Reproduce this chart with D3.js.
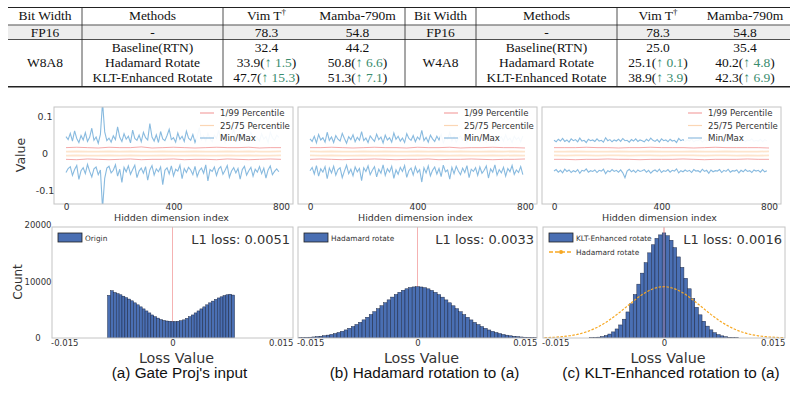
<!DOCTYPE html>
<html lang="en">
<head>
<meta charset="UTF-8">
<title>Rotation results and activation statistics</title>
<script src="https://cdn.jsdelivr.net/npm/d3@7"></script>
<style>
  body { margin: 0; background: #fff; }
  svg { display: block; }
  .tbl text { font-family: "Liberation Serif", "Times New Roman", serif; font-size: 13.5px; fill: #111; }
  .tbl .up { fill: #3a8c6e; }
  .plot text { font-family: "DejaVu Sans", sans-serif; fill: #333; }
  .cap { font-family: "Liberation Sans", Arial, sans-serif; font-size: 15.3px; fill: #111; }
</style>
</head>
<body>
<script>
// ---------- table data ----------
var tblHead = ["Bit Width", "Methods", "Vim T", "Mamba-790m"];
var methods = ["Baseline(RTN)", "Hadamard Rotate", "KLT-Enhanced Rotate"];
var fp16 = [78.3, 54.8];
var bitWidths = ["W8A8", "W4A8"];
var w8Vim = [32.4, 33.9, 47.7],   w8VimUp = [null, 1.5, 15.3];
var w8Mamba = [44.2, 50.8, 51.3], w8MambaUp = [null, 6.6, 7.1];
var w4Vim = [25.0, 25.1, 38.9],   w4VimUp = [null, 0.1, 3.9];
var w4Mamba = [35.4, 40.2, 42.3], w4MambaUp = [null, 4.8, 6.9];

// ---------- line plots: values x1e-3, min/max every 8th index, percentiles every 40th ----------
var originMax = [46,38,55,34,62,41,30,49,37,57, 33,44,69,36,45,28,52,140,59,35,
  42,31,48,38,73,44,33,54,39,47, 29,64,41,36,50,32,58,43,37,82,
  45,34,51,30,60,40,35,49,66,38, 43,31,56,39,47,33,61,42,36,52,
  30,45,71,37,48,34,55,40,32,50, 41,63,36,46,29,53,38,44,67,35,
  49,32,57,40,45,31,60,37,48,42, 34,54,39,46,30,58,43,36,50,44];
var originMin = [-52,-41,-36,-60,-44,-33,-71,-47,-39,-55, -30,-49,-64,-42,-37,-58,-45,-150,-68,-40,
  -35,-53,-46,-31,-62,-43,-79,-38,-50,-34, -57,-44,-32,-66,-48,-40,-54,-36,-73,-45,
  -33,-59,-42,-50,-37,-85,-46,-39,-56,-34, -61,-43,-48,-32,-69,-41,-52,-38,-45,-58,
  -35,-63,-47,-40,-54,-31,-75,-44,-49,-37, -60,-42,-36,-57,-46,-33,-65,-48,-39,-53,
  -41,-70,-44,-35,-59,-47,-38,-62,-43,-51, -36,-55,-40,-67,-45,-34,-58,-49,-42,-50];
var hadMax = [40,33,47,29,52,37,43,31,58,36, 45,30,49,39,34,55,41,28,46,38,
  51,32,44,36,60,35,42,30,48,40, 33,53,38,45,29,50,37,43,31,56,
  39,47,34,42,30,54,41,36,49,32, 45,38,63,35,44,31,50,40,33,47,
  37,52,29,43,39,57,34,46,31,41, 48,36,44,30,53,38,42,35,50,33,
  46,40,31,55,37,43,29,49,39,45, 34,51,36,42,30,47,38,44,32,48];
var hadMin = [-47,-38,-56,-33,-62,-42,-51,-36,-69,-40, -53,-35,-59,-44,-39,-66,-48,-32,-55,-43,
  -61,-37,-50,-41,-74,-39,-49,-34,-58,-46, -36,-64,-43,-54,-31,-60,-42,-51,-35,-68,
  -45,-57,-38,-49,-33,-65,-47,-40,-59,-36, -52,-44,-78,-39,-53,-34,-61,-46,-37,-56,
  -41,-63,-32,-50,-45,-70,-38,-55,-35,-48, -58,-40,-52,-33,-66,-43,-49,-39,-60,-37,
  -54,-46,-34,-67,-42,-51,-31,-59,-44,-53, -38,-62,-41,-50,-33,-57,-45,-52,-36,-58];
var kltMax = [36,32,39,34,41,33,37,31,40,35, 38,32,42,34,36,30,39,35,37,33,
  40,34,36,31,43,35,38,32,37,34, 39,33,41,35,36,31,38,34,40,33,
  37,35,32,39,34,42,36,33,38,31, 40,35,37,32,39,34,36,30,41,35,
  38,33,37,34,40,32,36,35,39,31, 37,34,42,33,38,35,36,32,40,34,
  37,31,39,35,36,33,41,34,38,32, 37,35,40,33,36,34,39,32,38,35];
var kltMin = [-48,-44,-51,-46,-53,-43,-49,-45,-52,-47, -50,-44,-54,-46,-48,-42,-51,-47,-49,-45,
  -52,-46,-48,-43,-55,-47,-50,-44,-49,-46, -51,-45,-53,-66,-48,-43,-50,-46,-52,-45,
  -49,-47,-44,-51,-46,-54,-48,-45,-50,-43, -52,-47,-49,-44,-51,-46,-48,-42,-53,-47,
  -50,-45,-49,-46,-52,-44,-48,-47,-51,-43, -49,-46,-54,-45,-50,-47,-48,-44,-52,-46,
  -49,-43,-51,-47,-48,-45,-53,-46,-50,-44, -49,-47,-52,-45,-48,-46,-51,-44,-50,-47];
var originP99 = [16,17,16,15,17,16,16,18,15,16,17,16,15,16,17,16,16,17,15,16,16];
var originP01 = [-16,-17,-15,-16,-17,-16,-15,-17,-16,-16,-15,-17,-16,-16,-17,-15,-16,-17,-16,-15,-16];
var originP75 = [5,6,5,5,6,5,6,5,5,6,5,5,6,5,5,6,5,6,5,5,6];
var originP25 = [-6,-5,-6,-6,-5,-6,-5,-6,-6,-5,-6,-6,-5,-6,-6,-5,-6,-5,-6,-6,-5];
var hadP99 = [16,16,17,16,15,16,17,16,16,15,17,16,16,17,15,16,16,17,16,16,15];
var hadP01 = [-16,-15,-16,-17,-16,-16,-15,-16,-17,-16,-16,-15,-17,-16,-16,-15,-16,-17,-16,-16,-15];
var hadP75 = [6,5,6,5,5,6,5,6,5,5,6,5,6,5,6,5,5,6,5,6,5];
var hadP25 = [-5,-6,-5,-6,-6,-5,-6,-5,-6,-6,-5,-6,-5,-6,-5,-6,-6,-5,-6,-5,-6];
var kltP99 = [16,16,16,17,16,16,15,16,16,17,16,16,16,15,16,17,16,16,16,16,15];
var kltP01 = [-16,-16,-17,-16,-16,-15,-16,-16,-17,-16,-16,-16,-15,-16,-17,-16,-16,-16,-15,-16,-16];
var kltP75 = [5,5,6,5,5,5,6,5,5,6,5,5,5,6,5,5,6,5,5,5,6];
var kltP25 = [-5,-6,-5,-5,-6,-5,-5,-6,-5,-5,-6,-5,-5,-5,-6,-5,-5,-6,-5,-6,-5];
var lineLegend = ["1/99 Percentile", "25/75 Percentile", "Min/Max"];

// ---------- histograms ----------
var originStart = -0.0090, originStep = 0.0004;
var originCounts = [7550,8370,8060,7850,7650,7400,7140,6890,6580,6220, 5870,5510,5150,4790,4440,4080,3770,3520,3260,3110,
  3010,2960,2900,2900,2960,3060,3210,3470,3770,4080, 4440,4790,5150,5510,5870,6220,6530,6830,7090,7290,
  7500,7650,7750,7600];
var hadStart = -0.01675, hadStep = 0.0005;
var hadCounts = [60,80,110,140,185,245,315,400,510,630, 785,970,1180,1430,1710,2030,2390,2770,3210,3670,
  4150,4660,5190,5710,6240,6750,7240,7690,8090,8440, 8710,8920,9040,9080,9030,8900,8700,8420,8070,7680,
  7230,6740,6230,5700,5180,4650,4140,3660,3200,2760, 2380,2020,1700,1420,1170,960,780,620,500,390,
  310,240,180,140,105,80,60];
var kltStart = -0.01025, kltStep = 0.0005;
var kltCounts = [50,90,150,260,430,700,1080,1600,2310,3330, 4610,6050,7690,9530,11480,13330,15070,16500,17630,18250,
  18600,18100,17300,15990,14350,12500,10560,8710,6970,5430, 4100,2970,2100,1440,940,600,380,230,130,75,40];
var l1Loss = ["0.0051", "0.0033", "0.0016"];
var histLabels = ["Origin", "Hadamard rotate", "KLT-Enhanced rotate"];
var captions = ["(a) Gate Proj's input", "(b) Hadamard rotation to (a)", "(c) KLT-Enhanced rotation to (a)"];

var W = 792, H = 394;
var svg = d3.select("body").append("svg").attr("width", W).attr("height", H);

// ================= table =================
var tbl = svg.append("g").attr("class", "tbl");
tbl.append("rect").attr("x", 8).attr("y", 25.5).attr("width", 782).attr("height", 13.5).attr("fill", "#ededed");
function hline(y, w) {
  tbl.append("line").attr("x1", 8).attr("x2", 790).attr("y1", y).attr("y2", y)
    .attr("stroke", "#222").attr("stroke-width", w);
}
hline(7.5, 1.2); hline(25, 0.8); hline(39.5, 0.8); hline(86.8, 1.6);
[82, 223, 405, 476, 617].forEach(function(x) {
  tbl.append("line").attr("x1", x).attr("x2", x).attr("y1", 7.5).attr("y2", 86.5)
    .attr("stroke", "#222").attr("stroke-width", 0.8);
});

var halves = [
  {cols: [45, 152.5, 266.5, 357.5], bits: bitWidths[0], vim: w8Vim, vimUp: w8VimUp, mam: w8Mamba, mamUp: w8MambaUp},
  {cols: [440.5, 546.5, 658, 745], bits: bitWidths[1], vim: w4Vim, vimUp: w4VimUp, mam: w4Mamba, mamUp: w4MambaUp}
];
var rowY = [52, 67, 82];

function cell(x, y, v, up) {
  var t = tbl.append("text").attr("x", x).attr("y", y).attr("text-anchor", "middle");
  if (up == null) { t.text(v.toFixed(1)); return; }
  t.append("tspan").text(v.toFixed(1) + "(");
  t.append("tspan").attr("class", "up").text("\u2191 " + up.toFixed(1));
  t.append("tspan").text(")");
}

halves.forEach(function(h) {
  tblHead.forEach(function(s, i) {
    var t = tbl.append("text").attr("x", h.cols[i]).attr("y", 20).attr("text-anchor", "middle").text(s);
    if (i === 2) t.append("tspan").attr("font-size", "9px").attr("dy", -5).text("\u2020");
  });
  tbl.append("text").attr("x", h.cols[0]).attr("y", 36.5).attr("text-anchor", "middle").text("FP16");
  tbl.append("text").attr("x", h.cols[1]).attr("y", 36.5).attr("text-anchor", "middle").text("-");
  cell(h.cols[2], 36.5, fp16[0], null);
  cell(h.cols[3], 36.5, fp16[1], null);
  tbl.append("text").attr("x", h.cols[0]).attr("y", rowY[1]).attr("text-anchor", "middle").text(h.bits);
  methods.forEach(function(m, r) {
    tbl.append("text").attr("x", h.cols[1]).attr("y", rowY[r]).attr("text-anchor", "middle").text(m);
    cell(h.cols[2], rowY[r], h.vim[r], h.vimUp[r]);
    cell(h.cols[3], rowY[r], h.mam[r], h.mamUp[r]);
  });
});

// ================= line plots =================
var linePanels = [
  {x0: 54, x1: 293, max: originMax, min: originMin, p99: originP99, p01: originP01, p75: originP75, p25: originP25},
  {x0: 298, x1: 537, max: hadMax, min: hadMin, p99: hadP99, p01: hadP01, p75: hadP75, p25: hadP25},
  {x0: 542, x1: 781, max: kltMax, min: kltMin, p99: kltP99, p01: kltP01, p75: kltP75, p25: kltP25}
];
var lTop = 107, lBot = 204;
var yLine = d3.scaleLinear().domain([-0.138, 0.127]).range([lBot, lTop]);

linePanels.forEach(function(p, i) {
  var g = svg.append("g").attr("class", "plot");
  var x = d3.scaleLinear().domain([0, 800]).range([p.x0 + 12, p.x1 - 12]);
  g.append("clipPath").attr("id", "lc" + i).append("rect")
    .attr("x", p.x0).attr("y", lTop).attr("width", p.x1 - p.x0).attr("height", lBot - lTop);
  var body = g.append("g").attr("clip-path", "url(#lc" + i + ")");
  var mm = d3.line().x(function(d, k) { return x(k * 8); }).y(function(d) { return yLine(d / 1000); });
  var pc = d3.line().x(function(d, k) { return x(k * 40); }).y(function(d) { return yLine(d / 1000); });

  [p.p75, p.p25].forEach(function(s) {
    body.append("path").attr("d", pc(s)).attr("fill", "none")
      .attr("stroke", "#fcd3ab").attr("stroke-width", 1.8).attr("opacity", 0.6);
  });
  [p.p99, p.p01].forEach(function(s) {
    body.append("path").attr("d", pc(s)).attr("fill", "none")
      .attr("stroke", "#ef7f7f").attr("stroke-width", 0.9).attr("opacity", 0.75);
  });
  [p.max, p.min].forEach(function(s) {
    body.append("path").attr("d", mm(s)).attr("fill", "none")
      .attr("stroke", "#5a9fd3").attr("stroke-width", 1.1).attr("opacity", 0.72)
      .attr("stroke-linejoin", "miter");
  });

  // legend
  var lg = g.append("g");
  lg.append("rect").attr("x", p.x1 - 97).attr("y", lTop + 1).attr("width", 95).attr("height", 38)
    .attr("fill", "#fff").attr("opacity", 0.92);
  var lcol = ["#f4a3a3", "#fbd6b4", "#8fbde0"];
  lineLegend.forEach(function(s, k) {
    var yy = 113 + k * 12.5;
    lg.append("line").attr("x1", p.x1 - 93).attr("x2", p.x1 - 79).attr("y1", yy).attr("y2", yy)
      .attr("stroke", lcol[k]).attr("stroke-width", 1.2);
    lg.append("text").attr("x", p.x1 - 73).attr("y", yy + 3).attr("font-size", "8.6px").attr("fill", "#444").text(s);
  });

  g.append("rect").attr("x", p.x0).attr("y", lTop).attr("width", p.x1 - p.x0).attr("height", lBot - lTop)
    .attr("fill", "none").attr("stroke", "#c4c4c4").attr("stroke-width", 1);

  var xa = g.append("g").attr("transform", "translate(0," + lBot + ")")
    .call(d3.axisBottom(x).tickValues([0, 400, 800]).tickSize(0).tickPadding(0));
  xa.select(".domain").remove();
  xa.selectAll("text").attr("font-size", "9px").attr("fill", "#333");

  g.append("text").attr("x", (p.x0 + p.x1) / 2 - 2).attr("y", 221).attr("text-anchor", "middle")
    .attr("font-size", "9.5px").attr("fill", "#444").text("Hidden dimension index");

  if (i === 0) {
    var ya = g.append("g").attr("transform", "translate(" + p.x0 + ",0)")
      .call(d3.axisLeft(yLine).tickValues([-0.1, 0, 0.1]).tickSize(0)
        .tickFormat(function(d) { return String(d); }));
    ya.select(".domain").remove();
    ya.selectAll("text").attr("text-anchor", "middle").attr("x", -9).attr("font-size", "9.5px").attr("fill", "#333");
    g.append("text").attr("transform", "translate(25,155) rotate(-90)").attr("text-anchor", "middle")
      .attr("font-size", "12.5px").attr("fill", "#444").text("Value");
  }
});

// ================= histograms =================
var hTop = 227, hBot = 338;
var yHist = d3.scaleLinear().domain([0, 20000]).range([hBot, 225]);
var histPanels = [
  {x0: 52, x1: 293, start: originStart, step: originStep, counts: originCounts},
  {x0: 298, x1: 537, start: hadStart, step: hadStep, counts: hadCounts},
  {x0: 543, x1: 785, start: kltStart, step: kltStep, counts: kltCounts, overlay: true}
];

histPanels.forEach(function(p, i) {
  var g = svg.append("g").attr("class", "plot");
  var x = d3.scaleLinear().domain([-0.0167, 0.0167]).range([p.x0, p.x1]);
  g.append("clipPath").attr("id", "hc" + i).append("rect")
    .attr("x", p.x0).attr("y", hTop).attr("width", p.x1 - p.x0).attr("height", hBot - hTop);
  var body = g.append("g").attr("clip-path", "url(#hc" + i + ")");

  body.append("line").attr("x1", x(0)).attr("x2", x(0)).attr("y1", hTop).attr("y2", hBot)
    .attr("stroke", "#f08080").attr("stroke-width", 1).attr("opacity", 0.6);

  body.selectAll("rect.bar").data(p.counts).enter().append("rect").attr("class", "bar")
    .attr("x", function(d, k) { return x(p.start + k * p.step); })
    .attr("width", function(d, k) { return x(p.start + (k + 1) * p.step) - x(p.start + k * p.step); })
    .attr("y", function(d) { return yHist(d); })
    .attr("height", function(d) { return hBot - yHist(d); })
    .attr("fill", "#4a6fb3").attr("stroke", "#18223d").attr("stroke-width", 0.45);

  if (p.overlay) {
    var ov = d3.line()
      .x(function(d, k) { return x(hadStart + (k + 0.5) * hadStep); })
      .y(function(d) { return yHist(d); });
    body.append("path").attr("d", ov(hadCounts)).attr("fill", "none")
      .attr("stroke", "#f7a823").attr("stroke-width", 1.2).attr("stroke-dasharray", "2.5,1.5");
    body.append("line").attr("x1", x(0)).attr("x2", x(0)).attr("y1", hTop).attr("y2", hBot)
      .attr("stroke", "#f08080").attr("stroke-width", 1).attr("opacity", 0.45);
  }

  g.append("rect").attr("x", p.x0).attr("y", hTop).attr("width", p.x1 - p.x0).attr("height", hBot - hTop)
    .attr("fill", "none").attr("stroke", "#c4c4c4").attr("stroke-width", 1);

  // legend
  g.append("rect").attr("x", p.x0 + 6).attr("y", 233).attr("width", 24).attr("height", 9)
    .attr("fill", "#4a6fb3").attr("stroke", "#222").attr("stroke-width", 0.8);
  g.append("text").attr("x", p.x0 + 33).attr("y", 241).attr("font-size", "7.4px").attr("fill", "#333").text(histLabels[i]);
  if (p.overlay) {
    g.append("line").attr("x1", p.x0 + 6).attr("x2", p.x0 + 30).attr("y1", 252).attr("y2", 252)
      .attr("stroke", "#f7a823").attr("stroke-width", 1.3).attr("stroke-dasharray", "4,2");
    g.append("circle").attr("cx", p.x0 + 18).attr("cy", 252).attr("r", 2).attr("fill", "#f7a823");
    g.append("text").attr("x", p.x0 + 33).attr("y", 255).attr("font-size", "7.4px").attr("fill", "#333").text("Hadamard rotate");
  }

  g.append("text").attr("x", p.x1 - 3).attr("y", 244).attr("text-anchor", "end")
    .attr("font-size", "13px").attr("fill", "#333").text("L1 loss: " + l1Loss[i]);

  var xa = g.append("g").attr("transform", "translate(0," + hBot + ")")
    .call(d3.axisBottom(x).tickValues([-0.015, 0, 0.015]).tickSize(0).tickPadding(2)
      .tickFormat(function(d) { return String(d); }));
  xa.select(".domain").remove();
  xa.selectAll("text").attr("font-size", "8.5px").attr("fill", "#222");

  g.append("text").attr("x", (p.x0 + p.x1) / 2 + 4).attr("y", 362.5).attr("text-anchor", "middle")
    .attr("font-size", "14.3px").attr("fill", "#444").text("Loss Value");
  svg.append("text").attr("class", "cap").attr("x", (p.x0 + p.x1) / 2 + 7).attr("y", 378)
    .attr("text-anchor", "middle").text(captions[i]);

  if (i === 0) {
    var ya = g.append("g").attr("transform", "translate(" + p.x0 + ",0)")
      .call(d3.axisLeft(yHist).tickValues([0, 10000, 20000]).tickSize(0).tickFormat(d3.format("d")));
    ya.select(".domain").remove();
    ya.selectAll("text").attr("text-anchor", "middle").attr("x", -14).attr("font-size", "8.5px").attr("fill", "#222");
    g.append("text").attr("transform", "translate(22,282) rotate(-90)").attr("text-anchor", "middle")
      .attr("font-size", "12px").attr("fill", "#444").text("Count");
  }
});
</script>
</body>
</html>
